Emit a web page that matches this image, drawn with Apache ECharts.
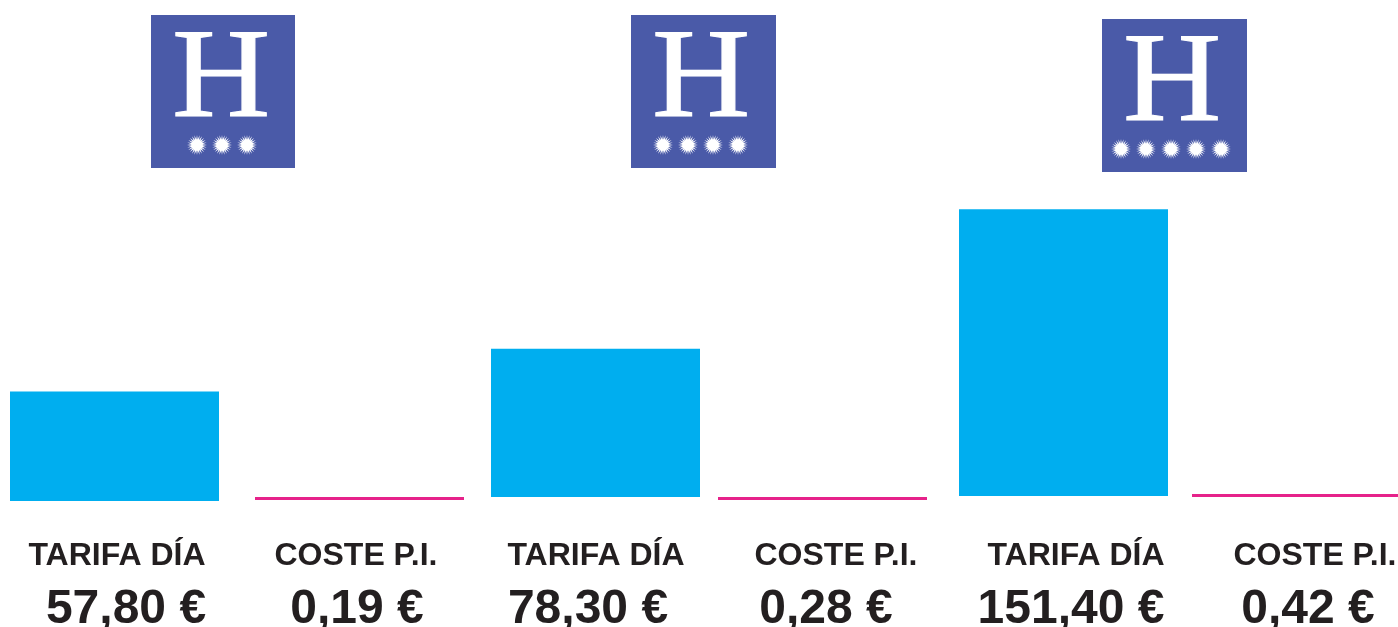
<!DOCTYPE html>
<html>
<head>
<meta charset="utf-8">
<title>Tarifa día / Coste P.I.</title>
<style>
  html, body { margin: 0; padding: 0; background: #fff; overflow: hidden; }
  #main { width: 1398px; height: 627px; }
</style>
<script src="https://cdn.jsdelivr.net/npm/echarts@6/dist/echarts.min.js"></script>
</head>
<body>
<div id="main"></div>
<script>
// datos
var tarifaDia = [57.8, 78.3, 151.4]
var costePI = [0.19, 0.28, 0.42]
var tarifaLabels = ['57,80 €', '78,30 €', '151,40 €']
var costeLabels = ['0,19 €', '0,28 €', '0,42 €']
var tarifaName = 'TARIFA DÍA'
var costeName = 'COSTE P.I.'
var estrellas = [3, 4, 5]

// maquetacion: cada barra va en su propio grid
var BLUE = '#00aeef'
var PINK = '#e6228a'
var DARK = '#231f20'
var LOGO = '#4a5aa8'
var AXIS_MAX = 160
var GRID_H = 303 // unos 1.9 px por euro
var tarifaLeft = [10, 491, 959]
var tarifaBase = [501, 497, 496]
var costeLeft = [255, 718, 1192]
var costeBase = [500, 500, 497]
var BAR_W = 209
var tarifaNameX = [117, 596, 1076]
var tarifaValX = [126, 588, 1071]
var costeNameX = [356, 836, 1315]
var costeValX = [357, 826, 1308]
var logoX = [151, 631, 1102]
var logoY = [15, 15, 19]
var logoW = [144, 145, 145]
var starX0 = [46, 32, 19]

var grids = []
var xAxes = []
var yAxes = []
var series = []

function addBar(left, base, value, color) {
  var i = grids.length
  grids.push({ left: left, width: BAR_W, top: base - GRID_H, height: GRID_H })
  xAxes.push({ gridIndex: i, type: 'category', show: false, data: [''] })
  yAxes.push({ gridIndex: i, type: 'value', show: false, min: 0, max: AXIS_MAX })
  series.push({
    type: 'bar',
    xAxisIndex: i,
    yAxisIndex: i,
    barWidth: '100%',
    barMinHeight: 3,
    silent: true,
    itemStyle: { color: color },
    data: [value],
  })
}

function label(x, y, txt, size) {
  return {
    type: 'text',
    x: x,
    y: y,
    silent: true,
    style: {
      text: txt,
      fill: DARK,
      align: 'center',
      verticalAlign: 'middle',
      font: 'bold ' + size + 'px "Liberation Sans", Arial, sans-serif',
    },
  }
}

// sol blanco con rayos
function star(cx, cy) {
  var pts = []
  var n = 24
  for (var k = 0; k < n * 2; k++) {
    var r = k % 2 === 0 ? 10 : 5.5
    var a = (Math.PI * k) / n
    pts.push([cx + r * Math.cos(a), cy + r * Math.sin(a)])
  }
  return { type: 'polygon', silent: true, shape: { points: pts }, style: { fill: '#fff' } }
}

var graphics = []
for (var i = 0; i < tarifaDia.length; i++) {
  addBar(tarifaLeft[i], tarifaBase[i], tarifaDia[i], BLUE)
  addBar(costeLeft[i], costeBase[i], costePI[i], PINK)

  graphics.push(label(tarifaNameX[i], 556, tarifaName, 32))
  graphics.push(label(costeNameX[i], 556, costeName, 32))
  graphics.push(label(tarifaValX[i], 610, tarifaLabels[i], 48))
  graphics.push(label(costeValX[i], 610, costeLabels[i], 48))

  graphics.push({
    type: 'rect',
    silent: true,
    shape: { x: logoX[i], y: logoY[i], width: logoW[i], height: 153 },
    style: { fill: LOGO },
  })
  graphics.push({
    type: 'text',
    x: logoX[i] + 70,
    y: logoY[i] + 67,
    scaleY: 0.94,
    silent: true,
    style: {
      text: 'H',
      fill: '#fff',
      stroke: '#fff',
      lineWidth: 1.2,
      align: 'center',
      verticalAlign: 'middle',
      font: '136px "Liberation Serif", serif',
    },
  })
  for (var s = 0; s < estrellas[i]; s++) {
    graphics.push(star(logoX[i] + starX0[i] + s * 25, logoY[i] + 130))
  }
}

var myChart = echarts.init(document.getElementById('main'))
myChart.setOption({
  animation: false,
  backgroundColor: '#fff',
  grid: grids,
  xAxis: xAxes,
  yAxis: yAxes,
  series: series,
  graphic: { elements: graphics },
})
</script>
</body>
</html>
